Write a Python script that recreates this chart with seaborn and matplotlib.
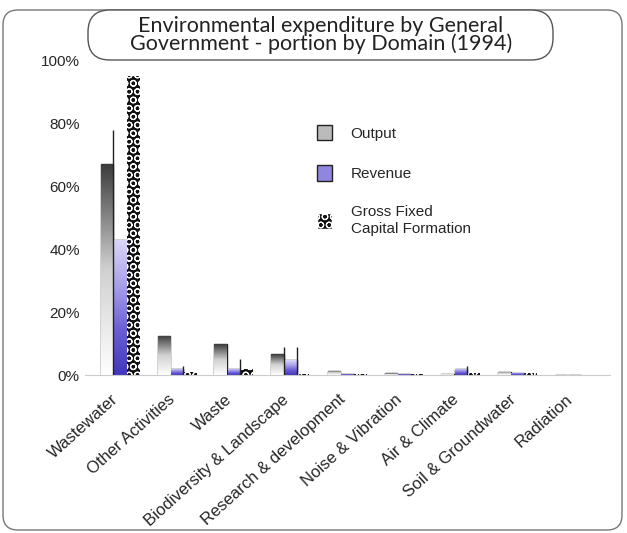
import numpy as np
import pandas as pd
import matplotlib
matplotlib.use("Agg")
import matplotlib.pyplot as plt
from matplotlib.colors import LinearSegmentedColormap
from matplotlib.patches import FancyBboxPatch, Patch
import seaborn as sns

domains = ["Wastewater", "Other Activities", "Waste", "Biodiversity & Landscape",
           "Research & development", "Noise & Vibration", "Air & Climate",
           "Soil & Groundwater", "Radiation"]
series = ["Output", "Revenue", "Gross Fixed\nCapital Formation"]
output = [0.67, 0.125, 0.098, 0.066, 0.015, 0.006, 0.005, 0.010, 0.001]
revenue = [0.43, 0.020, 0.020, 0.047, 0.005, 0.004, 0.020, 0.008, 0.001]
gfcf = [0.95, 0.010, 0.020, 0.003, 0.003, 0.003, 0.008, 0.008, 0.001]
# thin vertical marker lines seen next to some bars (upper values)
output_line = [0.78, 0.0, 0.0, 0.09, 0.0, 0.0, 0.0, 0.0, 0.0]
revenue_line = [0.0, 0.03, 0.05, 0.09, 0.0, 0.0, 0.03, 0.0, 0.0]

df = pd.DataFrame({
    "domain": domains * 3,
    "series": [s for s in series for _ in domains],
    "value": output + revenue + gfcf,
})

sns.set_style("white")
plt.rcParams["font.family"] = ["Liberation Sans", "DejaVu Sans"]
plt.rcParams["hatch.linewidth"] = 0.8

fig = plt.figure(figsize=(6.27, 5.33), dpi=100)
ax = fig.add_axes([0.136, 0.296, 0.837, 0.591])

sns.barplot(data=df, x="domain", y="value", hue="series", hue_order=series,
            palette=["white", "white", "black"], width=0.7, gap=0.06,
            ax=ax, legend=False)

out_cmap = LinearSegmentedColormap.from_list("out", ["white", "#d0d0d0", "#3a3a3a"])
rev_cmap = LinearSegmentedColormap.from_list("rev", ["#4236bd", "#6a5fd6", "#aaa2ea", "#dcd8f6"])

for cont, cmap in zip(ax.containers[:2], [out_cmap, rev_cmap]):
    for p in cont.patches:
        x0, y0 = p.get_xy()
        w, h = p.get_width(), p.get_height()
        p.set_edgecolor("#222222")
        p.set_linewidth(1.0)
        if h <= 0:
            continue
        grad = np.linspace(0, 1, 256).reshape(-1, 1)
        im = ax.imshow(grad, extent=[x0, x0 + w, y0, y0 + h], origin="lower",
                       cmap=cmap, aspect="auto", zorder=p.get_zorder() + 0.1)
        im.set_clip_path(p)

for p in ax.containers[2].patches:
    p.set_facecolor("#111111")
    p.set_edgecolor("white")
    p.set_hatch("OO")
    p.set_linewidth(0)

# thin vertical marker lines at the right edge of bars
for cont, tops in zip(ax.containers[:2], [output_line, revenue_line]):
    for p, t in zip(cont.patches, tops):
        if t > 0:
            xr = p.get_x() + p.get_width()
            ax.vlines(xr, 0, t, color="#222222", linewidth=1.0, zorder=5)

ax.set_xlim(-0.62, 8.63)
ax.set_ylim(0, 1.0)
ticks = np.arange(0, 1.01, 0.2)
ax.set_yticks(ticks)
ax.set_yticklabels([f"{int(round(v * 100))}%" for v in ticks], fontsize=11)
# labels sit a little left of each group centre, as in the original
ax.set_xticks(np.arange(len(domains)) - 0.16)
ax.set_xticklabels(domains, rotation=42, ha="right", rotation_mode="anchor", fontsize=12)
ax.set_xlabel(None)
ax.set_ylabel(None)
ax.tick_params(axis="y", length=0, pad=4)
ax.tick_params(axis="x", length=0, pad=12)
sns.despine(ax=ax, left=True, right=True, top=True)
ax.spines["bottom"].set_color("#cccccc")
ax.spines["bottom"].set_linewidth(0.8)

handles = [
    Patch(facecolor="#bbbbbb", edgecolor="#222222", label=series[0]),
    Patch(facecolor="#8f86e0", edgecolor="#222222", label=series[1]),
    Patch(facecolor="#111111", edgecolor="white", hatch="OO", label=series[2]),
]
ax.legend(handles=handles, loc="upper left", bbox_to_anchor=(0.43, 0.815),
          frameon=False, fontsize=11, handlelength=1.0, handleheight=1.2,
          labelspacing=1.6, handletextpad=1.2, borderaxespad=0)

# outer rounded frame and title box
fig.patches.append(FancyBboxPatch((0.03, 0.03), 6.19, 5.2,
                                  boxstyle="round,pad=0,rounding_size=0.15",
                                  transform=fig.dpi_scale_trans, fill=False,
                                  edgecolor="#777777", linewidth=1.0, zorder=0))
fig.patches.append(FancyBboxPatch((0.88, 4.73), 4.65, 0.5,
                                  boxstyle="round,pad=0,rounding_size=0.22",
                                  transform=fig.dpi_scale_trans, facecolor="white",
                                  edgecolor="#555555", linewidth=1.0, zorder=1))
fig.text(0.512, 0.935, "Environmental expenditure by General\nGovernment - portion by Domain (1994)",
         ha="center", va="center", fontsize=15.5, color="#222222",
         family=["Lato", "DejaVu Sans"], linespacing=0.85, zorder=2)

fig.savefig("out.png", dpi=100)
